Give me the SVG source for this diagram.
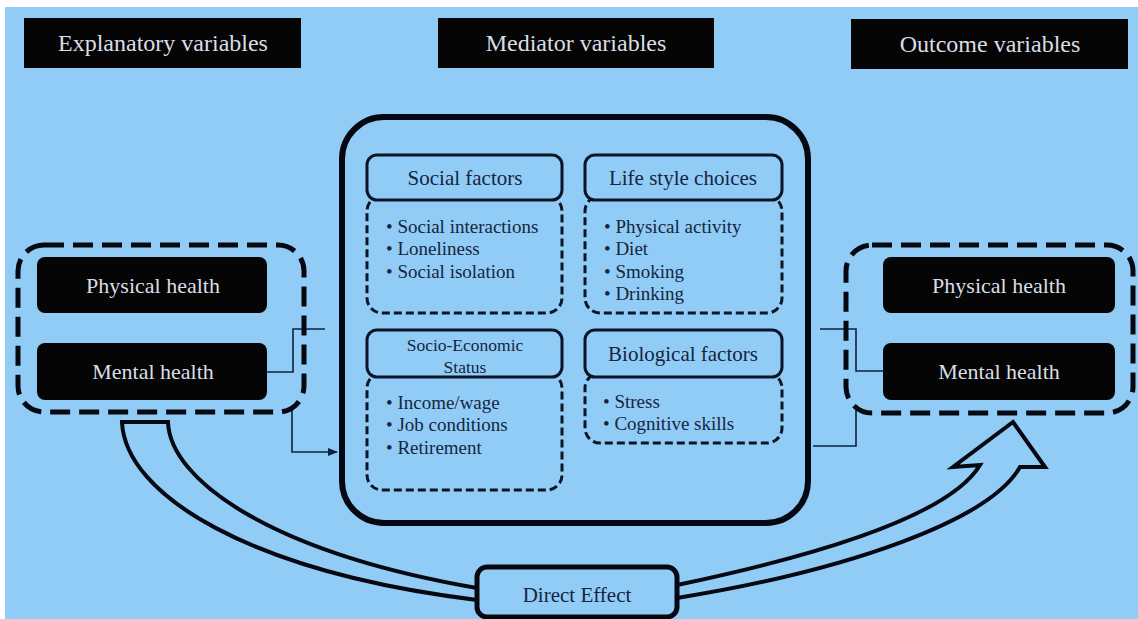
<svg xmlns="http://www.w3.org/2000/svg" width="1138" height="619" viewBox="0 0 1138 619">
<style>
.hdr{fill:#050505}
.hdrt{font-family:"Liberation Serif",serif;font-size:24px;fill:#d9dee6;text-anchor:middle}
.hbox{fill:#050505}
.ht{font-family:"Liberation Serif",serif;font-size:22px;fill:#d9dee6;text-anchor:middle}
.cont{fill:none;stroke:#050810;stroke-width:5;stroke-dasharray:20 9}
.big{fill:none;stroke:#050810;stroke-width:6}
.sh{fill:#91ccf7;stroke:#0b1526;stroke-width:3}
.sd{fill:none;stroke:#0b1526;stroke-width:3;stroke-dasharray:8 4}
.st{font-family:"Liberation Serif",serif;font-size:21px;fill:#16253d;text-anchor:middle}
.ss{font-family:"Liberation Serif",serif;font-size:17.5px;fill:#16253d;text-anchor:middle}
.bt{font-family:"Liberation Serif",serif;font-size:19px;fill:#16253d}
.con{fill:none;stroke:#0d2240;stroke-width:1.6}
.band{fill:#91ccf7;stroke:#050810;stroke-width:4;stroke-linejoin:miter}
.de{fill:#91ccf7;stroke:#050810;stroke-width:5}
.det{font-family:"Liberation Serif",serif;font-size:21px;fill:#16253d;text-anchor:middle}
</style>
<defs>
<marker id="ah" markerWidth="10" markerHeight="8" refX="9" refY="4" orient="auto" markerUnits="userSpaceOnUse">
<path d="M0,0 L10,4 L0,8 Z" fill="#0d2240"/>
</marker>
</defs>
<rect x="0" y="0" width="1138" height="619" fill="#91ccf7"/>
<rect x="0" y="0" width="1138" height="7" fill="#ffffff"/>
<rect x="0" y="0" width="5" height="619" fill="#ffffff"/>

<g id="hdr-explanatory"><rect class="hdr" x="24" y="18" width="277" height="50"/><text class="hdrt" x="163" y="51">Explanatory variables</text></g>
<g id="hdr-mediator"><rect class="hdr" x="438" y="18" width="276" height="50"/><text class="hdrt" x="576" y="51">Mediator variables</text></g>
<g id="hdr-outcome"><rect class="hdr" x="851" y="19" width="277" height="50"/><text class="hdrt" x="990" y="52">Outcome variables</text></g>

<g id="connectors">
<path class="band" d="M168,422 L122,422 C125,495 250,572 477,600 L477,588 C270,552 170,480 168,422 Z"/>
<path class="band" d="M677,585 C820,555 950,515 980,465 L953,467 L1013,422 L1045,467 L1020,467 C990,520 850,570 677,598 Z"/>
<path class="con" d="M267,372 H293 V329 H325"/>
<path class="con" d="M292,409 V452 H337" marker-end="url(#ah)"/>
<path class="con" d="M820,329 H856 V371 H883"/>
<path class="con" d="M856,408 V446 H813"/>
</g>

<g id="explanatory">
<rect class="cont" x="18" y="245" width="286" height="167" rx="26"/>
<g id="exp-physical"><rect class="hbox" x="37" y="257" width="230" height="56" rx="8"/><text class="ht" x="153" y="293">Physical health</text></g>
<g id="exp-mental"><rect class="hbox" x="37" y="343" width="230" height="57" rx="8"/><text class="ht" x="153" y="379">Mental health</text></g>
</g>

<g id="outcome">
<rect class="cont" x="846" y="245" width="287" height="168" rx="26"/>
<g id="out-physical"><rect class="hbox" x="883" y="257" width="232" height="56" rx="8"/><text class="ht" x="999" y="293">Physical health</text></g>
<g id="out-mental"><rect class="hbox" x="883" y="343" width="232" height="57" rx="8"/><text class="ht" x="999" y="379">Mental health</text></g>
</g>

<g id="mediator">
<rect class="big" x="342" y="117" width="466" height="406" rx="42"/>
<g id="social">
<rect class="sd" x="367" y="196" width="195" height="117" rx="15"/>
<rect class="sh" x="367" y="155" width="195" height="45" rx="10"/>
<text class="st" x="465" y="185">Social factors</text>
<text class="bt" x="386" y="233">• Social interactions</text>
<text class="bt" x="386" y="255">• Loneliness</text>
<text class="bt" x="386" y="278">• Social isolation</text>
</g>
<g id="lifestyle">
<rect class="sd" x="585" y="196" width="197" height="117" rx="15"/>
<rect class="sh" x="585" y="155" width="197" height="45" rx="10"/>
<text class="st" x="683" y="185">Life style choices</text>
<text class="bt" x="604" y="233">• Physical activity</text>
<text class="bt" x="604" y="255">• Diet</text>
<text class="bt" x="604" y="278">• Smoking</text>
<text class="bt" x="604" y="300">• Drinking</text>
</g>
<g id="ses">
<rect class="sd" x="367" y="373" width="195" height="117" rx="15"/>
<rect class="sh" x="367" y="330" width="195" height="47" rx="10"/>
<text class="ss" x="465" y="351">Socio-Economic</text>
<text class="ss" x="465" y="373">Status</text>
<text class="bt" x="386" y="409">• Income/wage</text>
<text class="bt" x="386" y="431">• Job conditions</text>
<text class="bt" x="386" y="454">• Retirement</text>
</g>
<g id="biological">
<rect class="sd" x="585" y="373" width="197" height="70" rx="15"/>
<rect class="sh" x="585" y="330" width="197" height="47" rx="10"/>
<text class="st" x="683" y="361">Biological factors</text>
<text class="bt" x="603" y="408">• Stress</text>
<text class="bt" x="603" y="430">• Cognitive skills</text>
</g>
</g>

<g id="direct-effect">
<rect class="de" x="477" y="567" width="200" height="50" rx="10"/>
<text class="det" x="577" y="602">Direct Effect</text>
</g>
</svg>
